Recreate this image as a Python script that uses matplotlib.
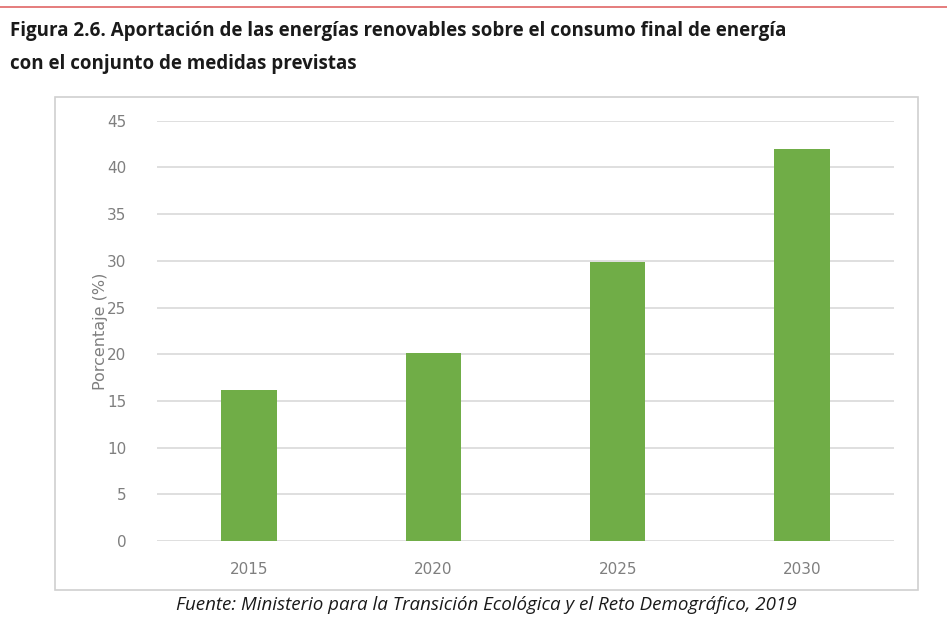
import matplotlib.pyplot as plt
from matplotlib.patches import Rectangle

# 数据
years = ['2015', '2020', '2025', '2030']
porcentaje = [16.2, 20.1, 29.9, 42.0]
y_ticks = [0, 5, 10, 15, 20, 25, 30, 35, 40, 45]

titulo = ("Figura 2.6. Aportación de las energías renovables sobre el consumo final de energía\n"
          "con el conjunto de medidas previstas")
fuente = "Fuente: Ministerio para la Transición Ecológica y el Reto Demográfico, 2019"

W, H = 947, 643
fig = plt.figure(figsize=(W / 100, H / 100), dpi=100)
fig.patch.set_facecolor('white')

# 顶部细红线
fig.add_artist(plt.Line2D([0, 1], [1 - 7 / H, 1 - 7 / H], color='#e06666', lw=1.2))

# 标题
fig.text(10 / W, 1 - 21 / H, titulo, ha='left', va='top', fontsize=13.5,
         fontweight='bold', color='#1a1a1a', family='Open Sans', linespacing=1.85,
         fontstretch='condensed')

# 图表外框
fig.add_artist(Rectangle((55 / W, 1 - 590 / H), (918 - 55) / W, (590 - 97) / H,
                         transform=fig.transFigure, fill=False, edgecolor='#d0d0d0', lw=1.2))

ax = fig.add_axes([157 / W, 102 / H, 737 / W, 420.3 / H])
x = range(len(years))
ax.bar(x, porcentaje, width=0.30, color='#70ad47', zorder=3)
ax.set_xlim(-0.5, len(years) - 0.5)
ax.set_ylim(0, 45)
ax.set_yticks(y_ticks)
ax.set_xticks(list(x))
ax.set_xticklabels(years)
ax.grid(axis='y', color='#d9d9d9', lw=1.2, zorder=0)
for s in ax.spines.values():
    s.set_visible(False)
ax.tick_params(length=0, colors='#7f7f7f', labelsize=11)
ax.tick_params(axis='y', pad=22)
ax.tick_params(axis='x', pad=15)
ax.set_ylabel('Porcentaje (%)', color='#7f7f7f', fontsize=11.5, labelpad=-1)

fig.text(486 / W, 1 - 605 / H, fuente, ha='center', va='center', fontsize=13.5,
         style='italic', color='#1a1a1a', family='Open Sans')

fig.savefig('out.png', dpi=100)
